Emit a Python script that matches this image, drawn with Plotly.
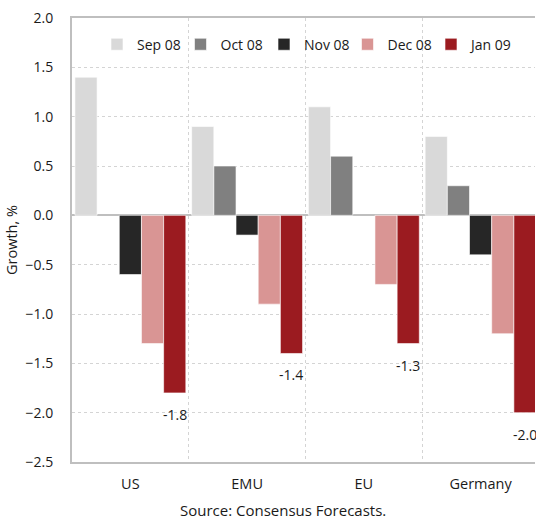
import plotly.graph_objects as go

regions = ["US", "EMU", "EU", "Germany"]
months = ["Sep 08", "Oct 08", "Nov 08", "Dec 08", "Jan 09"]
sep08 = [1.4, 0.9, 1.1, 0.8]
oct08 = [None, 0.5, 0.6, 0.3]
nov08 = [-0.6, -0.2, None, -0.4]
dec08 = [-1.3, -0.9, -0.7, -1.2]
jan09 = [-1.8, -1.4, -1.3, -2.0]
series = [sep08, oct08, nov08, dec08, jan09]
colors = ["#d9d9d9", "#808080", "#262626", "#d99594", "#9b1b20"]

FONT = "Open Sans"
FS = 14
BARGAP = 0.05

fig = go.Figure()
for k, (name, vals, col) in enumerate(zip(months, series, colors)):
    fig.add_trace(go.Bar(
        name=name, x=regions, y=vals,
        marker=dict(color=col, line=dict(color="rgba(255,255,255,0.6)", width=1)),
        legendwidth=60 if k == len(months) - 1 else None,
    ))

# value labels under the latest-month bars
n = len(months)
slot = (1 - BARGAP) / n
jan_offset = slot * (n - 1) - (1 - BARGAP) / 2 + slot / 2
for i, v in enumerate(jan09):
    fig.add_annotation(x=i + jan_offset, y=v, text=f"{v:.1f}", showarrow=False,
                       yanchor="top", yshift=-10, xref="x", yref="y",
                       font=dict(size=FS, color="#1a1a1a", family=FONT))

fig.add_annotation(text="Source: Consensus Forecasts.", xref="paper", yref="paper",
                   x=0.455, y=-0.08, xanchor="center", yanchor="top", showarrow=False,
                   font=dict(size=15, color="#1a1a1a", family=FONT))

fig.update_layout(
    width=536, height=522,
    margin=dict(l=72, r=0, t=18, b=60),
    paper_bgcolor="white", plot_bgcolor="white",
    barmode="group", bargap=BARGAP, bargroupgap=0,
    font=dict(family=FONT, size=FS, color="#1a1a1a"),
    legend=dict(orientation="h", x=0.054, y=0.94, xanchor="left", yanchor="middle",
                bgcolor="rgba(0,0,0,0)", font=dict(size=FS, family=FONT),
                entrywidth=38.5, itemwidth=30),
    xaxis=dict(range=[-0.5, 3.466], tickson="boundaries", showgrid=True,
               gridcolor="#d4d4d4", griddash="dot", gridwidth=1,
               showline=True, linecolor="#bfbfbf", linewidth=2, mirror=True,
               ticks="", ticklabelstandoff=8, tickfont=dict(size=14.5)),
    yaxis=dict(range=[-2.5, 2.0], dtick=0.5, tickformat=".1f",
               showgrid=True, gridcolor="#d4d4d4", griddash="dot", gridwidth=1,
               showline=True, linecolor="#bfbfbf", linewidth=2,
               zeroline=True, zerolinecolor="#bfbfbf", zerolinewidth=2,
               ticks="", ticklabelstandoff=14,
               title=dict(text="Growth, %", standoff=4, font=dict(size=14.5, family=FONT))),
)

fig.write_html("out.html")
